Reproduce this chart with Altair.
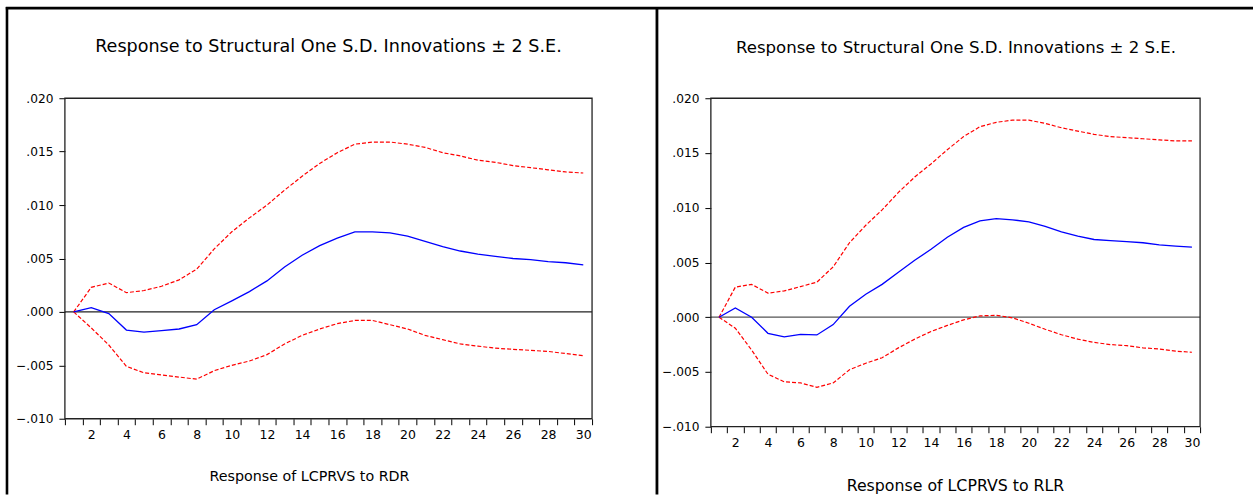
import altair as alt
import pandas as pd

periods = list(range(1, 31))

left_irf = [0.0, 0.0004, -0.00016, -0.0017, -0.0019, -0.00175, -0.0016, -0.0012, 0.0002, 0.00103,
            0.0019, 0.0029, 0.0042, 0.0053, 0.0062, 0.0069, 0.0075, 0.0075, 0.0074, 0.0071,
            0.0066, 0.0061, 0.0057, 0.0054, 0.0052, 0.0050, 0.0049, 0.0047, 0.0046, 0.0044]
left_upper = [0.0, 0.0023, 0.0027, 0.0018, 0.0020, 0.0024, 0.0030, 0.0040, 0.0059, 0.0075,
              0.0088, 0.0100, 0.0114, 0.0127, 0.0139, 0.0149, 0.0157, 0.0159, 0.0159, 0.0157,
              0.0154, 0.0149, 0.0146, 0.0142, 0.0140, 0.0137, 0.0135, 0.0133, 0.0131, 0.0130]
left_lower = [0.0, -0.0015, -0.0031, -0.0051, -0.0057, -0.0059, -0.0061, -0.0063, -0.0055, -0.0050,
              -0.0046, -0.0040, -0.0030, -0.0022, -0.0016, -0.0011, -0.0008, -0.0008, -0.0012, -0.0016,
              -0.0022, -0.0026, -0.0030, -0.0032, -0.0034, -0.0035, -0.0036, -0.0037, -0.0039, -0.0041]

right_irf = [0.0, 0.00085, 0.0, -0.00147, -0.0018, -0.00156, -0.00162, -0.00067, 0.0010, 0.0021,
             0.0030, 0.0041, 0.0052, 0.0062, 0.0073, 0.0082, 0.0088, 0.0090, 0.0089, 0.0087,
             0.0083, 0.0078, 0.0074, 0.0071, 0.0070, 0.0069, 0.0068, 0.0066, 0.0065, 0.0064]
right_upper = [0.0, 0.00275, 0.0030, 0.0022, 0.0024, 0.0028, 0.0032, 0.0046, 0.0068, 0.0084,
               0.0098, 0.0114, 0.0128, 0.0140, 0.0153, 0.0165, 0.0174, 0.0178, 0.0180, 0.0180,
               0.0177, 0.0173, 0.0170, 0.0167, 0.0165, 0.0164, 0.0163, 0.0162, 0.0161, 0.0161]
right_lower = [0.0, -0.0010, -0.0030, -0.0052, -0.0059, -0.0060, -0.0064, -0.0060, -0.0048, -0.0042,
               -0.0037, -0.0028, -0.0020, -0.0013, -0.00075, -0.00024, 0.00012, 0.00018, -0.00006, -0.00055,
               -0.0011, -0.0016, -0.0020, -0.0023, -0.0025, -0.0026, -0.0028, -0.0029, -0.0031, -0.0032]

chart_title = "Response to Structural One S.D. Innovations \u00b1 2 S.E."
left_label = "Response of LCPRVS to RDR"
right_label = "Response of LCPRVS to RLR"

y_ticks = [-0.01, -0.005, 0.0, 0.005, 0.01, 0.015, 0.02]
x_ticks = [i + 0.5 for i in range(0, 31)]

FONT = "DejaVu Sans"


def make_df(irf, up, lo):
    rows = []
    for name, vals in (("irf", irf), ("upper", up), ("lower", lo)):
        for p, v in zip(periods, vals):
            rows.append({"period": p, "value": v, "series": name})
    return pd.DataFrame(rows)


def one(k=0):
    return alt.Data(values=[{"k": k}])


def panel(irf, up, lo, width, height, title_x, title_y, title_size,
          lab_x, lab_y, lab_size, extra, zero_color):
    df = make_df(irf, up, lo)
    band = width / 30.0
    x_enc = alt.X("period:Q",
                  scale=alt.Scale(domain=[0.5, 30.5], nice=False, zero=False),
                  axis=alt.Axis(values=x_ticks, title=None, grid=False,
                                labelExpr="(datum.value % 2 == 1.5) ? format(datum.value + 0.5, 'd') : ''",
                                labelOffset=band / 2, tickSize=6, labelPadding=4,
                                labelFontSize=12.5,
                                labelFlush=False, labelOverlap=False))
    y_enc = alt.Y("value:Q",
                  scale=alt.Scale(domain=[-0.01, 0.02], nice=False, zero=False),
                  axis=alt.Axis(values=y_ticks, title=None, grid=False,
                                labelExpr="replace(format(datum.value, '.3f'), '0.', '.')",
                                tickSize=6, labelPadding=6, labelFontSize=12.2))

    zero = alt.Chart(alt.Data(values=[{"value": 0.0}])).mark_rule(
        color=zero_color, strokeWidth=1.3).encode(y=y_enc)
    red = alt.Chart(df).transform_filter("datum.series != 'irf'").mark_line(
        color="#ff0000", strokeWidth=1.2, strokeDash=[4, 2]).encode(
        x=x_enc, y=y_enc, detail="series:N")
    blue = alt.Chart(df).transform_filter("datum.series == 'irf'").mark_line(
        color="#0000ff", strokeWidth=1.3).encode(x=x_enc, y=y_enc)
    box = alt.Chart(one(9)).mark_rect(fill="white", fillOpacity=0, stroke="#222222",
                                      strokeWidth=1.3).encode(
        x=alt.value(0), x2=alt.value(width), y=alt.value(0), y2=alt.value(height))
    title = alt.Chart(one()).mark_text(
        text=chart_title, font=FONT, fontSize=title_size, color="black",
        align="center", baseline="alphabetic").encode(
        x=alt.value(title_x), y=alt.value(title_y))
    label = alt.Chart(one()).mark_text(
        text=(left_label if extra else right_label), font=FONT, fontSize=lab_size,
        color="black", align="center", baseline="alphabetic").encode(
        x=alt.value(lab_x), y=alt.value(lab_y))

    layers = []
    if extra:
        bg = alt.Chart(one()).mark_rect(fill="white", opacity=0, stroke=None).encode(
            x=alt.value(-65), x2=alt.value(1190), y=alt.value(-98), y2=alt.value(397))
        f_left = alt.Chart(one(1)).mark_rule(color="black", strokeWidth=2.6).encode(
            x=alt.value(-58), y=alt.value(-91.5), y2=alt.value(397))
        f_mid = alt.Chart(one(2)).mark_rule(color="black", strokeWidth=2.8).encode(
            x=alt.value(593), y=alt.value(-91.5), y2=alt.value(397))
        f_top = alt.Chart(one(3)).mark_rule(color="black", strokeWidth=2.6).encode(
            x=alt.value(-59.2), x2=alt.value(1190), y=alt.value(-90.3))
        layers = [bg, f_left, f_mid, f_top]
    layers += [zero, red, blue, box, title, label]
    return alt.layer(*layers).properties(width=width, height=height)


left = panel(left_irf, left_upper, left_lower, 528, 321,
             264, -46.7, 17.6, 245, 383, 14.3, True, "#222222")
right = panel(right_irf, right_upper, right_lower, 490, 329,
              245.5, -45.3, 16.6, 245, 393, 15.8, False, "#555555")

chart = alt.hconcat(left, right, spacing=119, bounds="flush").properties(
    padding=0, autosize=alt.AutoSizeParams(type="pad"), background="white"
).configure_view(
    stroke=None
).configure_axis(
    domain=False, tickColor="black", tickWidth=1, labelColor="black",
    labelFont=FONT, labelFontSize=12, zindex=1
)

chart.save("out.html", embed_options={"renderer": "svg", "actions": False})
